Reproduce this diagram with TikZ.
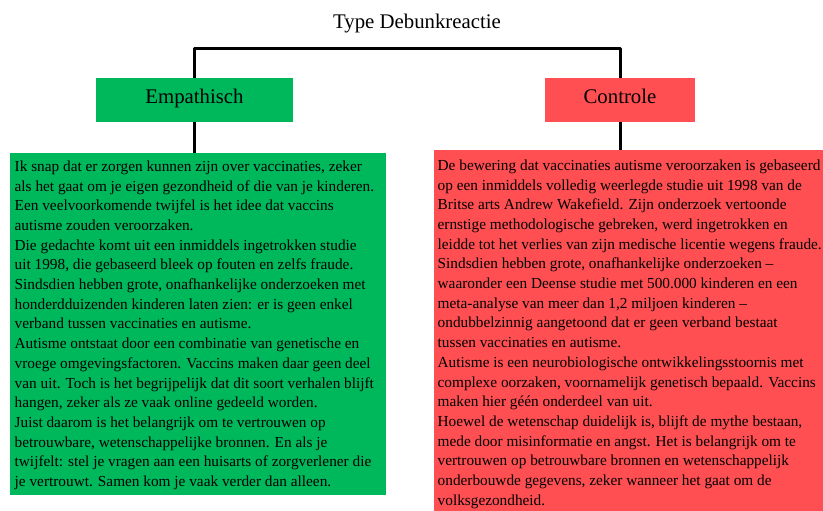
\documentclass[tikz,border=0pt]{standalone}
\usepackage{fontspec}
\setmainfont{Liberation Serif}
\usetikzlibrary{positioning,backgrounds}

\definecolor{empgroen}{HTML}{00B85C}
\definecolor{ctlrood}{HTML}{FF4F52}

\tikzset{
  kop/.style={font=\rmfamily\fontsize{20.8}{25}\selectfont, inner sep=0pt},
  kopvak/.style={minimum height=44pt, inner sep=0pt, text height=0.86em, text depth=0.2em,
    font=\rmfamily\fontsize{20.8}{25}\selectfont},
  tekstvak/.style={anchor=north west, inner sep=0pt},
  tekst/.style={align=left, inner sep=0pt, font=\fontsize{15.3}{19.7}\selectfont},
  boom/.style={line width=3pt, line join=round}
}

\begin{document}
\begin{tikzpicture}[x=1pt,y=-1pt]
\useasboundingbox (0,0) rectangle (823,511);
\clip (0,0) rectangle (823,511);

% Titel
\node (titel) at (417,24) [kop] {Type Debunkreactie};

% Tekstvakken
\node (emptekstvak) at (10,153) [tekstvak, fill=empgroen, minimum width=376pt, minimum height=342pt] {};
\node (ctltekstvak) at (434,150) [tekstvak, fill=ctlrood, minimum width=400pt, minimum height=370pt] {};

% Koppen
\node (emp) at (194.5,100) [kopvak, fill=empgroen, minimum width=197pt] {Empathisch};
\node (ctl) at (620,100) [kopvak, fill=ctlrood, minimum width=150pt] {Controle};

% Verbindingen
\coordinate (splits) at (417,49);
\begin{scope}[on background layer]
\draw[boom] (emptekstvak.north -| emp) |- (splits) -| (ctltekstvak.north -| ctl);
\end{scope}

% Empathisch
\node (emptekst) [tekst, below right=7.5pt and 4.5pt of emptekstvak.north west] {%
Ik snap dat er zorgen kunnen zijn over vaccinaties, zeker\\
als het gaat om je eigen gezondheid of die van je kinderen.\\
Een veelvoorkomende twijfel is het idee dat vaccins\\
autisme zouden veroorzaken.\\
Die gedachte komt uit een inmiddels ingetrokken studie\\
uit 1998, die gebaseerd bleek op fouten en zelfs fraude.\\
Sindsdien hebben grote, onafhankelijke onderzoeken met\\
honderdduizenden kinderen laten zien: er is geen enkel\\
verband tussen vaccinaties en autisme.\\
Autisme ontstaat door een combinatie van genetische en\\
vroege omgevingsfactoren. Vaccins maken daar geen deel\\
van uit. Toch is het begrijpelijk dat dit soort verhalen blijft\\
hangen, zeker als ze vaak online gedeeld worden.\\
Juist daarom is het belangrijk om te vertrouwen op\\
betrouwbare, wetenschappelijke bronnen. En als je\\
twijfelt: stel je vragen aan een huisarts of zorgverlener die\\
je vertrouwt. Samen kom je vaak verder dan alleen.};

% Controle
\node (ctltekst) [tekst, below right=9.5pt and 3.5pt of ctltekstvak.north west] {%
De bewering dat vaccinaties autisme veroorzaken is gebaseerd\\
op een inmiddels volledig weerlegde studie uit 1998 van de\\
Britse arts Andrew Wakefield. Zijn onderzoek vertoonde\\
ernstige methodologische gebreken, werd ingetrokken en\\
leidde tot het verlies van zijn medische licentie wegens fraude.\\
Sindsdien hebben grote, onafhankelijke onderzoeken –\\
waaronder een Deense studie met 500.000 kinderen en een\\
meta-analyse van meer dan 1,2 miljoen kinderen –\\
ondubbelzinnig aangetoond dat er geen verband bestaat\\
tussen vaccinaties en autisme.\\
Autisme is een neurobiologische ontwikkelingsstoornis met\\
complexe oorzaken, voornamelijk genetisch bepaald. Vaccins\\
maken hier géén onderdeel van uit.\\
Hoewel de wetenschap duidelijk is, blijft de mythe bestaan,\\
mede door misinformatie en angst. Het is belangrijk om te\\
vertrouwen op betrouwbare bronnen en wetenschappelijk\\
onderbouwde gegevens, zeker wanneer het gaat om de\\
volksgezondheid.};

\end{tikzpicture}
\end{document}
